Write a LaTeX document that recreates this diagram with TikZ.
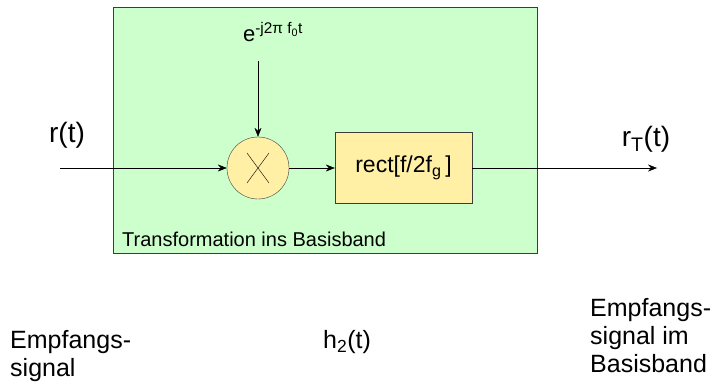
\documentclass[tikz,border=0pt]{standalone}
\usepackage{fontspec}
\setmainfont{Liberation Sans}
\usetikzlibrary{arrows.meta,positioning}
\definecolor{bandgreen}{RGB}{204,255,204}
\definecolor{blockyellow}{RGB}{255,240,165}
\definecolor{framegray}{RGB}{60,60,60}
\begin{document}
\begin{tikzpicture}[x=1pt,y=-1pt, >={Stealth[length=9pt,width=7pt,inset=3pt]},
    every node/.style={inner sep=0pt},
    big/.style={font=\fontsize{25}{28}\selectfont},
    block/.style={draw=framegray,fill=blockyellow}]
  \useasboundingbox (0,0) rectangle (719,385);
  \node [draw=framegray,fill=bandgreen,minimum width=424pt,minimum height=246pt,anchor=north west] (band) at (113,7) {};
  \node [anchor=south west,font=\fontsize{20}{24}\selectfont] (bandname) at (122,247) {Transformation ins Basisband};
  \node [block,circle,minimum size=62pt] (mult) at (258,168) {};
  \draw ([shift={(-11,-15)}]mult.center) -- ([shift={(11,15)}]mult.center);
  \draw ([shift={(11,-15)}]mult.center) -- ([shift={(-11,15)}]mult.center);
  \node [block,minimum width=137pt,minimum height=71pt,font=\fontsize{23}{26}\selectfont] (lowpass) at (403.5,168) {rect[f/2f\textsubscript{g}\,]};
  \node [font=\fontsize{22}{26}\selectfont] (carrier) at (273,32) {e\textsuperscript{-j2π f\textsubscript{0}t}};
  \coordinate (carrierend) at (258,61);
  \coordinate (in) at (60,168);
  \coordinate (out) at (657,168);
  \node [big,font=\fontsize{28}{32}\selectfont] (rin) at (67,135) {r(t)};
  \node [big,font=\fontsize{28}{32}\selectfont] (rout) at (646,139) {r\textsubscript{T}(t)};
  \draw [->] (in) -- (mult.west);
  \draw [->] (carrierend) -- (mult.north);
  \draw [->] (mult.east) -- (lowpass.west);
  \draw [->] (lowpass.east) -- (out);
  \node [big,anchor=north west,align=left] (rxsignal) at (10,330) {Empfangs-\\signal};
  \node [big,anchor=north west] (impulse) at (323,330) {h\textsubscript{2}(t)};
  \node [big,anchor=north west,align=left] (basesignal) at (590,298) {Empfangs-\\signal im\\Basisband};
\end{tikzpicture}
\end{document}
